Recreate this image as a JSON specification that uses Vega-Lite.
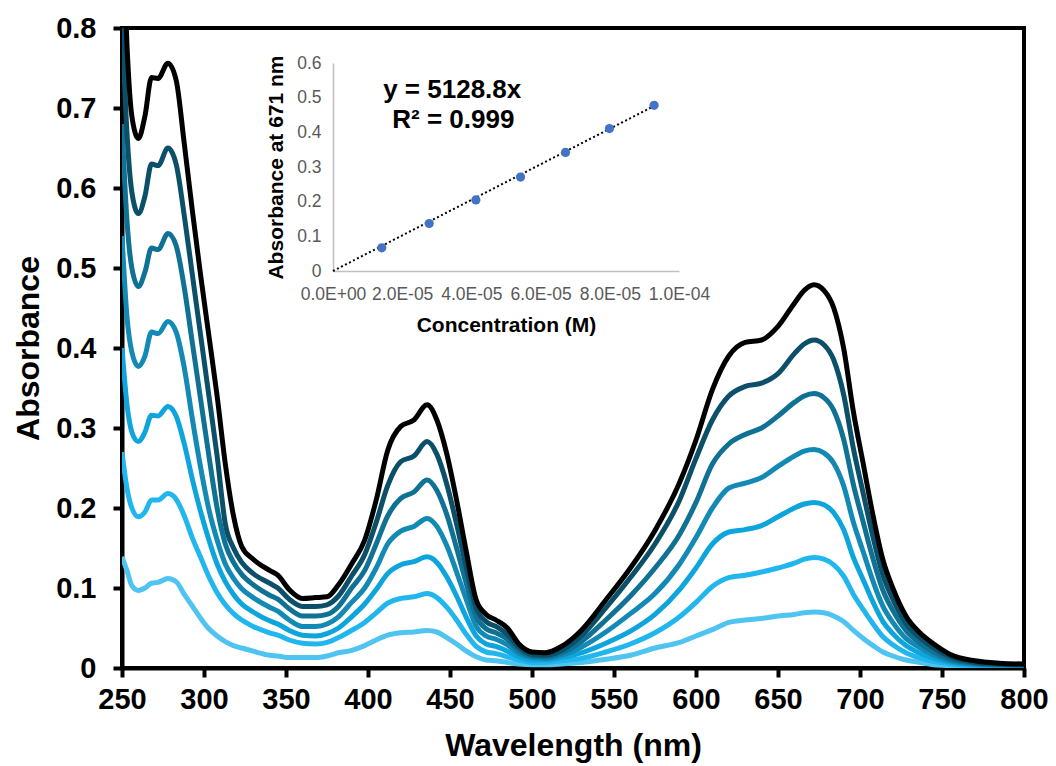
{
"$schema": "https://vega.github.io/schema/vega-lite/v6.json",
"width": 902, "height": 640,
"autosize": {"type": "none"},
"padding": {"left": 122, "top": 28, "right": 32, "bottom": 98},
"background": "white",
"config": {"view": {"stroke": "black", "strokeWidth": 4}, "font": "Liberation Sans", "axis": {"grid": false}},
"datasets": {
"spec": [
{"w":250,"c":1,"a":0.139},{"w":253,"c":1,"a":0.122},{"w":256,"c":1,"a":0.103},{"w":260,"c":1,"a":0.097},{"w":264,"c":1,"a":0.1},{"w":268,"c":1,"a":0.106},{"w":272,"c":1,"a":0.107},{"w":278,"c":1,"a":0.112},{"w":283,"c":1,"a":0.108},{"w":288,"c":1,"a":0.092},{"w":293,"c":1,"a":0.077},{"w":298,"c":1,"a":0.062},{"w":303,"c":1,"a":0.049},{"w":308,"c":1,"a":0.04},{"w":313,"c":1,"a":0.033},{"w":318,"c":1,"a":0.028},{"w":323,"c":1,"a":0.025},{"w":330,"c":1,"a":0.021},{"w":340,"c":1,"a":0.016},{"w":345,"c":1,"a":0.015},{"w":352,"c":1,"a":0.013},{"w":360,"c":1,"a":0.013},{"w":368,"c":1,"a":0.013},{"w":375,"c":1,"a":0.015},{"w":382,"c":1,"a":0.019},{"w":390,"c":1,"a":0.022},{"w":398,"c":1,"a":0.028},{"w":405,"c":1,"a":0.035},{"w":412,"c":1,"a":0.041},{"w":420,"c":1,"a":0.044},{"w":428,"c":1,"a":0.045},{"w":436,"c":1,"a":0.047},{"w":442,"c":1,"a":0.045},{"w":448,"c":1,"a":0.038},{"w":454,"c":1,"a":0.03},{"w":460,"c":1,"a":0.021},{"w":466,"c":1,"a":0.014},{"w":472,"c":1,"a":0.01},{"w":478,"c":1,"a":0.009},{"w":485,"c":1,"a":0.007},{"w":492,"c":1,"a":0.005},{"w":500,"c":1,"a":0.004},{"w":508,"c":1,"a":0.004},{"w":518,"c":1,"a":0.005},{"w":530,"c":1,"a":0.007},{"w":545,"c":1,"a":0.011},{"w":560,"c":1,"a":0.016},{"w":575,"c":1,"a":0.025},{"w":590,"c":1,"a":0.032},{"w":600,"c":1,"a":0.04},{"w":610,"c":1,"a":0.048},{"w":620,"c":1,"a":0.057},{"w":630,"c":1,"a":0.06},{"w":640,"c":1,"a":0.062},{"w":650,"c":1,"a":0.065},{"w":660,"c":1,"a":0.067},{"w":666,"c":1,"a":0.069},{"w":672,"c":1,"a":0.07},{"w":678,"c":1,"a":0.069},{"w":684,"c":1,"a":0.065},{"w":690,"c":1,"a":0.058},{"w":696,"c":1,"a":0.047},{"w":702,"c":1,"a":0.037},{"w":708,"c":1,"a":0.028},{"w":714,"c":1,"a":0.02},{"w":720,"c":1,"a":0.015},{"w":728,"c":1,"a":0.01},{"w":736,"c":1,"a":0.007},{"w":745,"c":1,"a":0.004},{"w":755,"c":1,"a":0.003},{"w":770,"c":1,"a":0.002},{"w":785,"c":1,"a":0.002},{"w":800,"c":1,"a":0.002},
{"w":250,"c":2,"a":0.27},{"w":253,"c":2,"a":0.225},{"w":256,"c":2,"a":0.2},{"w":260,"c":2,"a":0.189},{"w":264,"c":2,"a":0.195},{"w":268,"c":2,"a":0.21},{"w":272,"c":2,"a":0.21},{"w":278,"c":2,"a":0.218},{"w":283,"c":2,"a":0.211},{"w":288,"c":2,"a":0.19},{"w":293,"c":2,"a":0.162},{"w":298,"c":2,"a":0.138},{"w":303,"c":2,"a":0.114},{"w":308,"c":2,"a":0.094},{"w":313,"c":2,"a":0.079},{"w":318,"c":2,"a":0.068},{"w":323,"c":2,"a":0.06},{"w":330,"c":2,"a":0.052},{"w":340,"c":2,"a":0.044},{"w":345,"c":2,"a":0.041},{"w":352,"c":2,"a":0.035},{"w":360,"c":2,"a":0.031},{"w":368,"c":2,"a":0.03},{"w":375,"c":2,"a":0.032},{"w":382,"c":2,"a":0.038},{"w":390,"c":2,"a":0.047},{"w":398,"c":2,"a":0.057},{"w":405,"c":2,"a":0.069},{"w":412,"c":2,"a":0.081},{"w":420,"c":2,"a":0.087},{"w":428,"c":2,"a":0.089},{"w":436,"c":2,"a":0.093},{"w":442,"c":2,"a":0.088},{"w":448,"c":2,"a":0.076},{"w":454,"c":2,"a":0.06},{"w":460,"c":2,"a":0.042},{"w":466,"c":2,"a":0.027},{"w":472,"c":2,"a":0.02},{"w":478,"c":2,"a":0.018},{"w":485,"c":2,"a":0.014},{"w":492,"c":2,"a":0.01},{"w":500,"c":2,"a":0.007},{"w":508,"c":2,"a":0.007},{"w":518,"c":2,"a":0.009},{"w":530,"c":2,"a":0.012},{"w":545,"c":2,"a":0.02},{"w":560,"c":2,"a":0.03},{"w":575,"c":2,"a":0.044},{"w":590,"c":2,"a":0.064},{"w":600,"c":2,"a":0.082},{"w":610,"c":2,"a":0.102},{"w":620,"c":2,"a":0.113},{"w":630,"c":2,"a":0.116},{"w":640,"c":2,"a":0.12},{"w":650,"c":2,"a":0.125},{"w":660,"c":2,"a":0.131},{"w":666,"c":2,"a":0.136},{"w":672,"c":2,"a":0.138},{"w":678,"c":2,"a":0.136},{"w":684,"c":2,"a":0.129},{"w":690,"c":2,"a":0.115},{"w":696,"c":2,"a":0.092},{"w":702,"c":2,"a":0.073},{"w":708,"c":2,"a":0.055},{"w":714,"c":2,"a":0.039},{"w":720,"c":2,"a":0.029},{"w":728,"c":2,"a":0.019},{"w":736,"c":2,"a":0.013},{"w":745,"c":2,"a":0.008},{"w":755,"c":2,"a":0.005},{"w":770,"c":2,"a":0.003},{"w":785,"c":2,"a":0.003},{"w":800,"c":2,"a":0.002},
{"w":250,"c":3,"a":0.4},{"w":253,"c":3,"a":0.33},{"w":256,"c":3,"a":0.295},{"w":260,"c":3,"a":0.283},{"w":264,"c":3,"a":0.295},{"w":268,"c":3,"a":0.316},{"w":272,"c":3,"a":0.315},{"w":278,"c":3,"a":0.327},{"w":283,"c":3,"a":0.315},{"w":288,"c":3,"a":0.28},{"w":293,"c":3,"a":0.235},{"w":298,"c":3,"a":0.195},{"w":303,"c":3,"a":0.16},{"w":308,"c":3,"a":0.13},{"w":313,"c":3,"a":0.108},{"w":318,"c":3,"a":0.092},{"w":323,"c":3,"a":0.08},{"w":330,"c":3,"a":0.07},{"w":340,"c":3,"a":0.059},{"w":345,"c":3,"a":0.055},{"w":352,"c":3,"a":0.047},{"w":360,"c":3,"a":0.041},{"w":368,"c":3,"a":0.04},{"w":375,"c":3,"a":0.043},{"w":382,"c":3,"a":0.05},{"w":390,"c":3,"a":0.064},{"w":398,"c":3,"a":0.08},{"w":405,"c":3,"a":0.098},{"w":412,"c":3,"a":0.118},{"w":420,"c":3,"a":0.129},{"w":428,"c":3,"a":0.133},{"w":436,"c":3,"a":0.139},{"w":442,"c":3,"a":0.132},{"w":448,"c":3,"a":0.114},{"w":454,"c":3,"a":0.09},{"w":460,"c":3,"a":0.063},{"w":466,"c":3,"a":0.04},{"w":472,"c":3,"a":0.03},{"w":478,"c":3,"a":0.027},{"w":485,"c":3,"a":0.021},{"w":492,"c":3,"a":0.014},{"w":500,"c":3,"a":0.01},{"w":508,"c":3,"a":0.01},{"w":518,"c":3,"a":0.013},{"w":530,"c":3,"a":0.019},{"w":545,"c":3,"a":0.031},{"w":560,"c":3,"a":0.046},{"w":575,"c":3,"a":0.067},{"w":590,"c":3,"a":0.098},{"w":600,"c":3,"a":0.125},{"w":610,"c":3,"a":0.155},{"w":620,"c":3,"a":0.17},{"w":630,"c":3,"a":0.173},{"w":640,"c":3,"a":0.178},{"w":650,"c":3,"a":0.189},{"w":660,"c":3,"a":0.2},{"w":666,"c":3,"a":0.205},{"w":672,"c":3,"a":0.207},{"w":678,"c":3,"a":0.204},{"w":684,"c":3,"a":0.194},{"w":690,"c":3,"a":0.173},{"w":696,"c":3,"a":0.138},{"w":702,"c":3,"a":0.11},{"w":708,"c":3,"a":0.082},{"w":714,"c":3,"a":0.058},{"w":720,"c":3,"a":0.043},{"w":728,"c":3,"a":0.028},{"w":736,"c":3,"a":0.019},{"w":745,"c":3,"a":0.012},{"w":755,"c":3,"a":0.007},{"w":770,"c":3,"a":0.004},{"w":785,"c":3,"a":0.003},{"w":800,"c":3,"a":0.003},
{"w":250,"c":4,"a":0.54},{"w":253,"c":4,"a":0.44},{"w":256,"c":4,"a":0.395},{"w":260,"c":4,"a":0.377},{"w":264,"c":4,"a":0.39},{"w":268,"c":4,"a":0.42},{"w":272,"c":4,"a":0.418},{"w":278,"c":4,"a":0.433},{"w":283,"c":4,"a":0.42},{"w":288,"c":4,"a":0.375},{"w":293,"c":4,"a":0.31},{"w":298,"c":4,"a":0.25},{"w":303,"c":4,"a":0.198},{"w":308,"c":4,"a":0.16},{"w":313,"c":4,"a":0.13},{"w":318,"c":4,"a":0.112},{"w":323,"c":4,"a":0.099},{"w":330,"c":4,"a":0.088},{"w":340,"c":4,"a":0.076},{"w":345,"c":4,"a":0.071},{"w":352,"c":4,"a":0.06},{"w":360,"c":4,"a":0.052},{"w":368,"c":4,"a":0.052},{"w":375,"c":4,"a":0.055},{"w":382,"c":4,"a":0.064},{"w":390,"c":4,"a":0.082},{"w":398,"c":4,"a":0.1},{"w":405,"c":4,"a":0.125},{"w":412,"c":4,"a":0.155},{"w":420,"c":4,"a":0.171},{"w":428,"c":4,"a":0.177},{"w":436,"c":4,"a":0.187},{"w":442,"c":4,"a":0.177},{"w":448,"c":4,"a":0.153},{"w":454,"c":4,"a":0.12},{"w":460,"c":4,"a":0.085},{"w":466,"c":4,"a":0.052},{"w":472,"c":4,"a":0.04},{"w":478,"c":4,"a":0.036},{"w":485,"c":4,"a":0.029},{"w":492,"c":4,"a":0.018},{"w":500,"c":4,"a":0.013},{"w":508,"c":4,"a":0.012},{"w":518,"c":4,"a":0.016},{"w":530,"c":4,"a":0.026},{"w":545,"c":4,"a":0.045},{"w":560,"c":4,"a":0.068},{"w":575,"c":4,"a":0.093},{"w":590,"c":4,"a":0.13},{"w":600,"c":4,"a":0.163},{"w":610,"c":4,"a":0.2},{"w":620,"c":4,"a":0.225},{"w":630,"c":4,"a":0.231},{"w":640,"c":4,"a":0.238},{"w":650,"c":4,"a":0.252},{"w":660,"c":4,"a":0.265},{"w":666,"c":4,"a":0.271},{"w":672,"c":4,"a":0.273},{"w":678,"c":4,"a":0.269},{"w":684,"c":4,"a":0.256},{"w":690,"c":4,"a":0.228},{"w":696,"c":4,"a":0.182},{"w":702,"c":4,"a":0.145},{"w":708,"c":4,"a":0.108},{"w":714,"c":4,"a":0.077},{"w":720,"c":4,"a":0.057},{"w":728,"c":4,"a":0.037},{"w":736,"c":4,"a":0.026},{"w":745,"c":4,"a":0.016},{"w":755,"c":4,"a":0.009},{"w":770,"c":4,"a":0.005},{"w":785,"c":4,"a":0.004},{"w":800,"c":4,"a":0.003},
{"w":250,"c":5,"a":0.68},{"w":253,"c":5,"a":0.56},{"w":256,"c":5,"a":0.5},{"w":260,"c":5,"a":0.477},{"w":264,"c":5,"a":0.495},{"w":268,"c":5,"a":0.525},{"w":272,"c":5,"a":0.523},{"w":278,"c":5,"a":0.543},{"w":283,"c":5,"a":0.528},{"w":288,"c":5,"a":0.475},{"w":293,"c":5,"a":0.405},{"w":298,"c":5,"a":0.335},{"w":303,"c":5,"a":0.265},{"w":308,"c":5,"a":0.2},{"w":313,"c":5,"a":0.155},{"w":318,"c":5,"a":0.132},{"w":323,"c":5,"a":0.117},{"w":330,"c":5,"a":0.104},{"w":340,"c":5,"a":0.091},{"w":345,"c":5,"a":0.086},{"w":352,"c":5,"a":0.074},{"w":360,"c":5,"a":0.065},{"w":368,"c":5,"a":0.065},{"w":375,"c":5,"a":0.067},{"w":382,"c":5,"a":0.077},{"w":390,"c":5,"a":0.1},{"w":398,"c":5,"a":0.122},{"w":405,"c":5,"a":0.155},{"w":412,"c":5,"a":0.19},{"w":420,"c":5,"a":0.212},{"w":428,"c":5,"a":0.22},{"w":436,"c":5,"a":0.235},{"w":442,"c":5,"a":0.222},{"w":448,"c":5,"a":0.192},{"w":454,"c":5,"a":0.15},{"w":460,"c":5,"a":0.105},{"w":466,"c":5,"a":0.064},{"w":472,"c":5,"a":0.049},{"w":478,"c":5,"a":0.044},{"w":485,"c":5,"a":0.036},{"w":492,"c":5,"a":0.022},{"w":500,"c":5,"a":0.015},{"w":508,"c":5,"a":0.014},{"w":518,"c":5,"a":0.019},{"w":530,"c":5,"a":0.033},{"w":545,"c":5,"a":0.06},{"w":560,"c":5,"a":0.09},{"w":575,"c":5,"a":0.125},{"w":590,"c":5,"a":0.167},{"w":600,"c":5,"a":0.207},{"w":610,"c":5,"a":0.255},{"w":620,"c":5,"a":0.28},{"w":630,"c":5,"a":0.292},{"w":640,"c":5,"a":0.3},{"w":650,"c":5,"a":0.315},{"w":660,"c":5,"a":0.332},{"w":666,"c":5,"a":0.34},{"w":672,"c":5,"a":0.343},{"w":678,"c":5,"a":0.338},{"w":684,"c":5,"a":0.322},{"w":690,"c":5,"a":0.286},{"w":696,"c":5,"a":0.229},{"w":702,"c":5,"a":0.182},{"w":708,"c":5,"a":0.136},{"w":714,"c":5,"a":0.097},{"w":720,"c":5,"a":0.072},{"w":728,"c":5,"a":0.047},{"w":736,"c":5,"a":0.032},{"w":745,"c":5,"a":0.02},{"w":755,"c":5,"a":0.011},{"w":770,"c":5,"a":0.006},{"w":785,"c":5,"a":0.004},{"w":800,"c":5,"a":0.004},
{"w":250,"c":6,"a":0.81},{"w":253,"c":6,"a":0.67},{"w":256,"c":6,"a":0.595},{"w":260,"c":6,"a":0.568},{"w":264,"c":6,"a":0.59},{"w":268,"c":6,"a":0.63},{"w":272,"c":6,"a":0.628},{"w":278,"c":6,"a":0.65},{"w":283,"c":6,"a":0.63},{"w":288,"c":6,"a":0.565},{"w":293,"c":6,"a":0.49},{"w":298,"c":6,"a":0.415},{"w":303,"c":6,"a":0.34},{"w":308,"c":6,"a":0.265},{"w":313,"c":6,"a":0.18},{"w":318,"c":6,"a":0.15},{"w":323,"c":6,"a":0.132},{"w":330,"c":6,"a":0.118},{"w":340,"c":6,"a":0.106},{"w":345,"c":6,"a":0.1},{"w":352,"c":6,"a":0.086},{"w":360,"c":6,"a":0.077},{"w":368,"c":6,"a":0.077},{"w":375,"c":6,"a":0.079},{"w":382,"c":6,"a":0.09},{"w":390,"c":6,"a":0.115},{"w":398,"c":6,"a":0.142},{"w":405,"c":6,"a":0.182},{"w":412,"c":6,"a":0.228},{"w":420,"c":6,"a":0.258},{"w":428,"c":6,"a":0.265},{"w":436,"c":6,"a":0.283},{"w":442,"c":6,"a":0.267},{"w":448,"c":6,"a":0.23},{"w":454,"c":6,"a":0.18},{"w":460,"c":6,"a":0.125},{"w":466,"c":6,"a":0.075},{"w":472,"c":6,"a":0.058},{"w":478,"c":6,"a":0.052},{"w":485,"c":6,"a":0.042},{"w":492,"c":6,"a":0.026},{"w":500,"c":6,"a":0.017},{"w":508,"c":6,"a":0.016},{"w":518,"c":6,"a":0.022},{"w":530,"c":6,"a":0.04},{"w":545,"c":6,"a":0.075},{"w":560,"c":6,"a":0.113},{"w":575,"c":6,"a":0.155},{"w":590,"c":6,"a":0.21},{"w":600,"c":6,"a":0.262},{"w":610,"c":6,"a":0.31},{"w":620,"c":6,"a":0.34},{"w":630,"c":6,"a":0.352},{"w":640,"c":6,"a":0.356},{"w":650,"c":6,"a":0.368},{"w":660,"c":6,"a":0.393},{"w":666,"c":6,"a":0.405},{"w":672,"c":6,"a":0.41},{"w":678,"c":6,"a":0.404},{"w":684,"c":6,"a":0.385},{"w":690,"c":6,"a":0.342},{"w":696,"c":6,"a":0.274},{"w":702,"c":6,"a":0.218},{"w":708,"c":6,"a":0.163},{"w":714,"c":6,"a":0.116},{"w":720,"c":6,"a":0.086},{"w":728,"c":6,"a":0.056},{"w":736,"c":6,"a":0.039},{"w":745,"c":6,"a":0.025},{"w":755,"c":6,"a":0.014},{"w":770,"c":6,"a":0.007},{"w":785,"c":6,"a":0.005},{"w":800,"c":6,"a":0.004},
{"w":250,"c":7,"a":0.95},{"w":253,"c":7,"a":0.78},{"w":256,"c":7,"a":0.69},{"w":260,"c":7,"a":0.662},{"w":264,"c":7,"a":0.69},{"w":268,"c":7,"a":0.738},{"w":272,"c":7,"a":0.737},{"w":278,"c":7,"a":0.756},{"w":283,"c":7,"a":0.735},{"w":288,"c":7,"a":0.655},{"w":293,"c":7,"a":0.57},{"w":298,"c":7,"a":0.49},{"w":303,"c":7,"a":0.415},{"w":308,"c":7,"a":0.34},{"w":313,"c":7,"a":0.255},{"w":318,"c":7,"a":0.19},{"w":323,"c":7,"a":0.152},{"w":330,"c":7,"a":0.136},{"w":340,"c":7,"a":0.122},{"w":345,"c":7,"a":0.116},{"w":352,"c":7,"a":0.098},{"w":360,"c":7,"a":0.087},{"w":368,"c":7,"a":0.088},{"w":375,"c":7,"a":0.089},{"w":382,"c":7,"a":0.104},{"w":390,"c":7,"a":0.13},{"w":398,"c":7,"a":0.16},{"w":405,"c":7,"a":0.21},{"w":412,"c":7,"a":0.272},{"w":420,"c":7,"a":0.302},{"w":428,"c":7,"a":0.31},{"w":436,"c":7,"a":0.329},{"w":442,"c":7,"a":0.31},{"w":448,"c":7,"a":0.268},{"w":454,"c":7,"a":0.21},{"w":460,"c":7,"a":0.145},{"w":466,"c":7,"a":0.085},{"w":472,"c":7,"a":0.067},{"w":478,"c":7,"a":0.06},{"w":485,"c":7,"a":0.05},{"w":492,"c":7,"a":0.03},{"w":500,"c":7,"a":0.02},{"w":508,"c":7,"a":0.019},{"w":518,"c":7,"a":0.027},{"w":530,"c":7,"a":0.047},{"w":545,"c":7,"a":0.085},{"w":560,"c":7,"a":0.125},{"w":575,"c":7,"a":0.172},{"w":590,"c":7,"a":0.232},{"w":600,"c":7,"a":0.285},{"w":610,"c":7,"a":0.348},{"w":620,"c":7,"a":0.39},{"w":630,"c":7,"a":0.407},{"w":640,"c":7,"a":0.41},{"w":650,"c":7,"a":0.427},{"w":660,"c":7,"a":0.456},{"w":666,"c":7,"a":0.472},{"w":672,"c":7,"a":0.479},{"w":678,"c":7,"a":0.472},{"w":684,"c":7,"a":0.45},{"w":690,"c":7,"a":0.4},{"w":696,"c":7,"a":0.32},{"w":702,"c":7,"a":0.255},{"w":708,"c":7,"a":0.19},{"w":714,"c":7,"a":0.135},{"w":720,"c":7,"a":0.1},{"w":728,"c":7,"a":0.065},{"w":736,"c":7,"a":0.045},{"w":745,"c":7,"a":0.03},{"w":755,"c":7,"a":0.017},{"w":770,"c":7,"a":0.009},{"w":785,"c":7,"a":0.006},{"w":800,"c":7,"a":0.005}
],
"cal": [{"x":0.0000141,"y":0.067},{"x":0.0000278,"y":0.137},{"x":0.0000413,"y":0.205},{"x":0.0000542,"y":0.271},{"x":0.0000672,"y":0.342},{"x":0.0000799,"y":0.411},{"x":0.0000928,"y":0.478}],
"fit": [{"x":0,"y":0},{"x":0.0000928,"y":0.476}],
"eq": [{"x":0.00003445,"y":0.499,"t":"y = 5128.8x"},{"x":0.00003477,"y":0.4116,"t":"R² = 0.999"}]
},
"layer": [
{
"data": {"name": "spec"},
"mark": {"type": "line", "strokeWidth": 5, "interpolate": "monotone", "clip": true},
"encoding": {
"x": {"field": "w", "type": "quantitative", "scale": {"domain": [250, 800], "nice": false, "zero": false},
"axis": {"orient": "bottom", "values": [250,300,350,400,450,500,550,600,650,700,750,800], "title": "Wavelength (nm)", "domainColor": "black", "domainWidth": 4, "tickColor": "black", "tickWidth": 4, "tickSize": 9, "labelFont": "Liberation Sans", "labelFontWeight": "bold", "labelFontSize": 29, "labelColor": "black", "labelPadding": 8, "labelFlush": false, "titleFont": "Liberation Sans", "titleFontSize": 32, "titleFontWeight": "bold", "titleColor": "black", "titlePadding": 16}},
"y": {"field": "a", "type": "quantitative", "scale": {"domain": [0, 0.8], "nice": false},
"axis": {"orient": "left", "values": [0,0.1,0.2,0.3,0.4,0.5,0.6,0.7,0.8], "format": ".1~f", "title": "Absorbance", "domainColor": "black", "domainWidth": 4, "tickColor": "black", "tickWidth": 4, "tickSize": 9, "labelFont": "Liberation Sans", "labelFontWeight": "bold", "labelFontSize": 29, "labelColor": "black", "labelPadding": 17, "labelFlush": false, "titleFont": "Liberation Sans", "titleFontSize": 32, "titleFontWeight": "bold", "titleColor": "black", "titlePadding": 10}},
"color": {"field": "c", "type": "nominal", "scale": {"domain": [1,2,3,4,5,6,7], "range": ["#4FC4F0","#22B6EE","#0EA5DD","#1389B5","#0F7194","#0B4F68","#000000"]}, "legend": null}
}
},
{
"encoding": {
"x": {"field": "x", "type": "quantitative", "scale": {"domain": [0, 0.0001], "range": [211, 557], "nice": false, "zero": false},
"axis": {"orient": "bottom", "offset": -397, "values": [0,0.00002,0.00004,0.00006,0.00008,0.0001], "labelExpr": "['0.0E+00','2.0E-05','4.0E-05','6.0E-05','8.0E-05','1.0E-04'][round(datum.value/0.00002)]", "title": "Concentration (M)", "domainColor": "#BFBFBF", "domainWidth": 1.5, "ticks": false, "labelFont": "Liberation Sans", "labelFontSize": 17.5, "labelColor": "#595959", "labelPadding": 14, "labelFlush": false, "labelOverlap": false, "titleFont": "Liberation Sans", "titleFontSize": 21, "titleFontWeight": "bold", "titleColor": "black", "titlePadding": 12}},
"y": {"field": "y", "type": "quantitative", "scale": {"domain": [0, 0.6], "range": [243, 35], "nice": false},
"axis": {"orient": "left", "offset": -211, "values": [0,0.1,0.2,0.3,0.4,0.5,0.6], "format": ".1~f", "title": "Absorbance at 671 nm", "domainColor": "#BFBFBF", "domainWidth": 1.5, "ticks": false, "labelFont": "Liberation Sans", "labelFontSize": 17.5, "labelColor": "#595959", "labelPadding": 12, "labelFlush": false, "labelOverlap": false, "titleFont": "Liberation Sans", "titleFontSize": 21, "titleFontWeight": "bold", "titleColor": "black", "titlePadding": 10}}
},
"layer": [
{"data": {"name": "fit"}, "mark": {"type": "line", "color": "black", "strokeWidth": 2, "strokeDash": [2, 2.5]}, "encoding": {}},
{"data": {"name": "cal"}, "mark": {"type": "point", "filled": true, "shape": "circle", "size": 85, "color": "#4472C4", "opacity": 1}, "encoding": {}},
{"data": {"name": "eq"}, "mark": {"type": "text", "font": "Liberation Sans", "fontSize": 26, "fontWeight": "bold", "align": "center", "baseline": "alphabetic", "color": "black"}, "encoding": {"text": {"field": "t"}}}
]
}
],
"resolve": {"scale": {"x": "independent", "y": "independent"}, "axis": {"x": "independent", "y": "independent"}}
}
